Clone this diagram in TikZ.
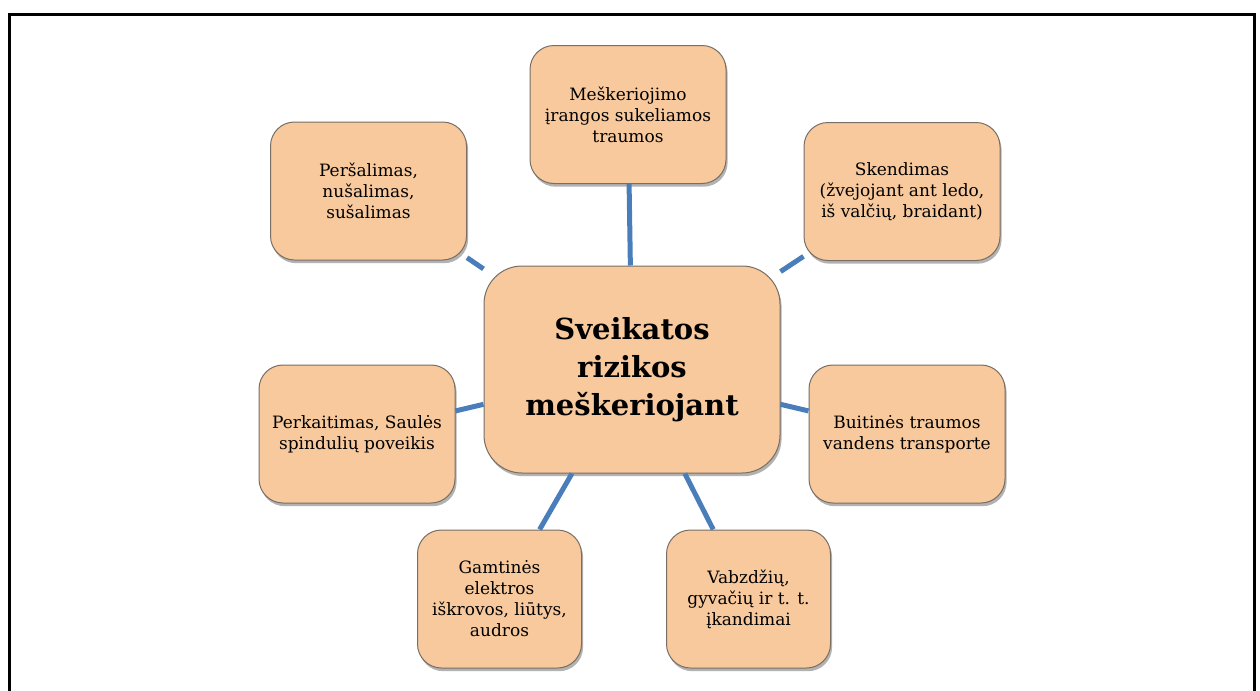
\documentclass[tikz,border=0pt]{standalone}
\usepackage{fontspec}
\setmainfont{DejaVu Serif}
\usetikzlibrary{shadows}
\definecolor{boxfill}{RGB}{247,201,157}
\definecolor{boxline}{RGB}{120,110,100}
\definecolor{linkblue}{RGB}{74,126,187}
\begin{document}
\begin{tikzpicture}[x=0.5pt,y=-0.5pt,
	risk/.style={draw=boxline,line width=0.5pt,fill=boxfill,rounded corners=12pt,
		align=center,inner sep=2pt,minimum width=98pt,minimum height=69pt,
		font=\fontsize{8.5}{10.5}\selectfont,
		drop shadow={shadow xshift=0.8pt,shadow yshift=-1.6pt,opacity=0.3,fill=black}},
	narrowrisk/.style={risk,minimum width=82pt},
	core/.style={risk,rounded corners=19pt,minimum width=148pt,minimum height=103.5pt,
		font=\fontsize{14.5}{19}\selectfont\bfseries},
	link/.style={draw=linkblue,line width=2.5pt}]
	\useasboundingbox (0,0) rectangle (1260,691);
	\draw[line width=1.5pt] (9,691)--(9,14)--(1254,14)--(1254,691);
	\node[core] (sveik) at (632,369.5) {Sveikatos\\rizikos\\meškeriojant};
	\node[risk] (irang) at (628,114.5) {Meškeriojimo\\įrangos sukeliamos\\traumos};
	\node[risk] (skend) at (902,191.5) {Skendimas\\(žvejojant ant ledo,\\iš valčių, braidant)};
	\node[risk] (buit) at (907,434) {Buitinės traumos\\vandens transporte};
	\node[narrowrisk] (vabzd) at (748.5,599) {Vabzdžių,\\gyvačių ir t. t.\\įkandimai};
	\node[narrowrisk] (gamt) at (499.5,599) {Gamtinės\\elektros\\iškrovos, liūtys,\\audros};
	\node[risk] (perkait) at (357,434) {Perkaitimas, Saulės\\spindulių poveikis};
	\node[risk] (persal) at (368.5,191) {Peršalimas,\\nušalimas,\\sušalimas};
	\foreach \kita in {irang,skend,buit,vabzd,gamt,perkait,persal}
		\draw[link] (sveik) -- (\kita);
\end{tikzpicture}
\end{document}
